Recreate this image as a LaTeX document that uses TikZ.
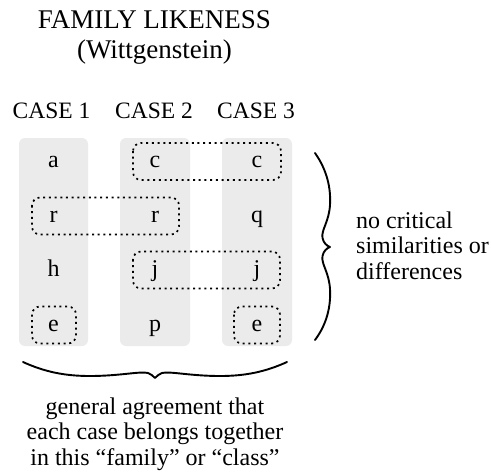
\documentclass[tikz,border=0pt]{standalone}
\usepackage{fontspec}
\setmainfont{Liberation Serif}
\definecolor{colgray}{HTML}{EBEBEB}
\begin{document}
\begin{tikzpicture}[x=1pt,y=-1pt,
  colbox/.style={fill=colgray, rounded corners=6pt},
  dotbox/.style={draw, line width=1.7pt, dash pattern=on 2pt off 3.7pt, rounded corners=8pt},
  letter/.style={font=\fontsize{24}{28}\selectfont, inner sep=0pt, anchor=base},
  title/.style={font=\fontsize{27}{30}\selectfont, inner sep=0pt, anchor=base},
  casehead/.style={font=\fontsize{23.5}{28}\selectfont, inner sep=0pt, anchor=base},
  note/.style={font=\fontsize{24}{25.5}\selectfont, inner sep=0pt},
  bracepath/.style={line width=1.9pt, line cap=round, line join=round}]
\useasboundingbox (0,0) rectangle (491,474);
% columns
\fill[colbox] (19,138) rectangle (88,346);
\fill[colbox] (120,138) rectangle (190,346);
\fill[colbox] (222,138) rectangle (292,346);
% titles
\node[title] (t1) at (154.5,28) {FAMILY LIKENESS};
\node[title] (t2) at (154.5,58) {(Wittgenstein)};
\node[casehead] (k1) at (51.5,118) {CASE 1};
\node[casehead] (k2) at (154,118) {CASE 2};
\node[casehead] (k3) at (256,118) {CASE 3};
% letters
\node[letter] (a1) at (53.5,167) {a};
\node[letter] (r1) at (53.5,222) {r};
\node[letter] (h1) at (53.5,276.5) {h};
\node[letter] (e1) at (53.5,331) {e};
\node[letter] (c2) at (155,167) {c};
\node[letter] (r2) at (155,222) {r};
\node[letter] (j2) at (155,276.5) {j};
\node[letter] (p2) at (155,331) {p};
\node[letter] (c3) at (257,167) {c};
\node[letter] (q3) at (257,222) {q};
\node[letter] (j3) at (257,276.5) {j};
\node[letter] (e3) at (257,331) {e};
% dotted groupings
\draw[dotbox] (133,143) rectangle (281,180);
\draw[dotbox] (32,197.5) rectangle (179,234.5);
\draw[dotbox] (133,251.5) rectangle (280,288.5);
\draw[dotbox] (32,306.5) rectangle (76,343.5);
\draw[dotbox] (234,306.5) rectangle (280,343.5);
% right brace
\draw[bracepath] (315,153) .. controls (327,170) and (331,188) .. (330,205)
  .. controls (329,222) and (321,230) .. (322.5,238)
  .. controls (323.5,243) and (327,246) .. (330,247)
  .. controls (327,248) and (323.5,251) .. (322.5,256)
  .. controls (321,264) and (329,272) .. (330,289)
  .. controls (331,306) and (327,324) .. (315,340);
% bottom brace
\draw[bracepath] (23,362) .. controls (45,372) and (65,376) .. (90,376)
  .. controls (120,376) and (140,371) .. (148,373)
  .. controls (151,374) and (153,376) .. (155,378)
  .. controls (157,376) and (159,374) .. (162,373)
  .. controls (170,371) and (190,376) .. (220,376)
  .. controls (245,376) and (265,372) .. (287,362);
% notes (base anchor = last line)
\node[note, anchor=base west, align=left] (rt) at (356,279) {no critical\\similarities or\\differences};
\node[note, anchor=base, align=center] (bt) at (155,465) {general agreement that\\each case belongs together\\in this “family” or “class”};
\end{tikzpicture}
\end{document}
